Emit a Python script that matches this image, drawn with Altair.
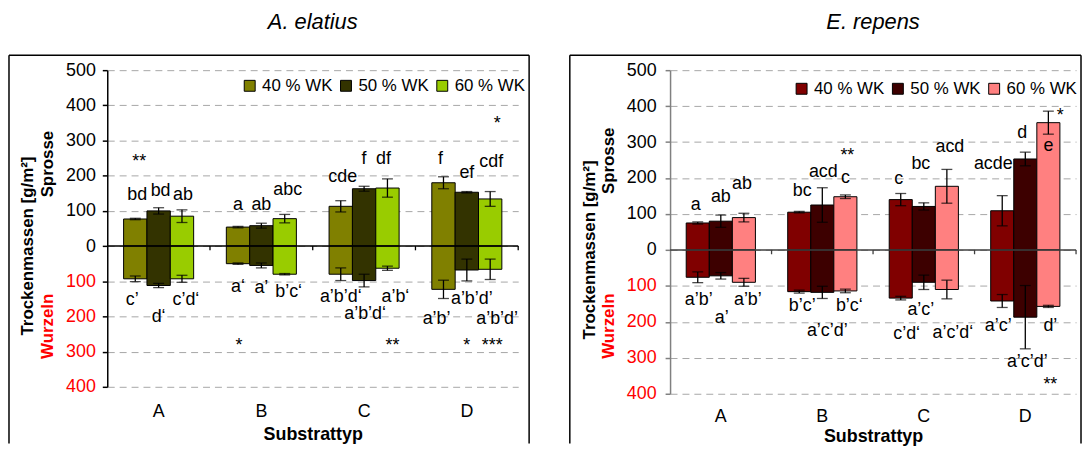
import altair as alt
import pandas as pd

FONT = "Liberation Sans"

categories = ["A", "B", "C", "D"]
series = ["40 % WK", "50 % WK", "60 % WK"]

# ---------------- A. elatius (g/m²) ----------------
ela_shoot_40 = [77, 54, 113, 180]
ela_shoot_50 = [100, 58, 163, 153]
ela_shoot_60 = [85, 78, 165, 134]
ela_shoot_err_40 = [2, 2, 16, 17]
ela_shoot_err_50 = [9, 7, 7, 2]
ela_shoot_err_60 = [18, 12, 26, 21]
ela_root_40 = [93, 50, 80, 123]
ela_root_50 = [112, 55, 98, 68]
ela_root_60 = [93, 80, 63, 66]
ela_root_err_40 = [8, 2, 18, 26]
ela_root_err_50 = [6, 7, 18, 31]
ela_root_err_60 = [10, 2, 6, 29]

ela_label_text = ["**", "bd", "bd", "ab", "a", "ab", "abc", "cde", "f", "df", "f", "ef", "cdf", "*",
                  "c’", "d‘", "c’d‘", "a‘", "a’", "b’c‘", "*", "a’b’d‘", "a’b’d‘", "a’b‘", "**",
                  "a’b’", "a’b’d’", "a’b’d’", "*", "***"]
ela_label_cat = ["A", "A", "A", "A", "B", "B", "B", "C", "C", "C", "D", "D", "D", "D",
                 "A", "A", "A", "B", "B", "B", "B", "C", "C", "C", "C",
                 "D", "D", "D", "D", "D"]
ela_label_series = [0, 0, 1, 2, 0, 1, 2, 0, 1, 2, 0, 1, 2, 2,
                    0, 1, 2, 0, 1, 2, 0, 0, 1, 2, 2,
                    0, 1, 2, 1, 2]
ela_label_y = [238, 146, 156, 146, 118, 118, 159, 195, 248, 248, 248, 208, 238, 348,
               -154, -203, -154, -115, -118, -130, -285, -146, -194, -146, -285,
               -206, -151, -208, -285, -285]
ela_label_dx = [4, 2, 2, 1, 0, 0, 3, 2, 0, -4, -3, 0, 1, 7,
                -3, 0, 4, 0, 0, 4, 1, 0, 1, 8, 5,
                -7, 5, 7, 0, 2]

# ---------------- E. repens (g/m²) ----------------
rep_shoot_40 = [75, 105, 140, 109]
rep_shoot_50 = [80, 125, 121, 253]
rep_shoot_60 = [90, 148, 177, 354]
rep_shoot_err_40 = [3, 2, 17, 42]
rep_shoot_err_50 = [17, 48, 10, 19]
rep_shoot_err_60 = [12, 5, 47, 32]
rep_root_40 = [76, 116, 134, 142]
rep_root_50 = [72, 118, 90, 187]
rep_root_60 = [90, 114, 110, 157]
rep_root_err_40 = [15, 4, 5, 18]
rep_root_err_50 = [9, 17, 20, 88]
rep_root_err_60 = [11, 5, 26, 3]

rep_label_text = ["a", "ab", "ab", "bc", "acd", "c", "**", "c", "bc", "acd", "acde", "d", "e", "*",
                  "a’b’", "a’", "a’b’", "b’c’", "a’c’d’", "b’c‘", "c’d‘", "a’c’", "a’c’d‘",
                  "a’c’", "a’c’d’", "d’", "**"]
rep_label_cat = ["A", "A", "A", "B", "B", "B", "B", "C", "C", "C", "D", "D", "D", "D",
                 "A", "A", "A", "B", "B", "B", "C", "C", "C", "D", "D", "D", "D"]
rep_label_series = [0, 1, 2, 0, 1, 2, 2, 0, 1, 2, 0, 1, 2, 2,
                    0, 1, 2, 0, 1, 2, 0, 1, 2, 0, 1, 2, 2]
rep_label_y = [124, 147, 184, 165, 218, 200, 262, 197, 239, 285, 239, 326, 289, 372,
               -140, -188, -140, -156, -225, -156, -234, -168, -230, -211, -311, -211, -375]
rep_label_dx = [-2, 0, -2, 3, 1, 0, 2, -2, -3, 3, -9, -3, 0, 12,
                1, 1, 4, 3, 5, 4, 6, -3, 6, -4, 2, 2, 2]

ela_colors = ["#808000", "#333300", "#99cc00"]
rep_colors = ["#800000", "#3d0000", "#ff8080"]


def one(d):
    return pd.DataFrame([d])


def panel(title, shoots, shoot_errs, roots, root_errs, lt, lc, ls, ly, ldx, colors,
          w, h, frame_l, frame_r, frame_b, axis_col, zero_col, leg_x, leg_y, lab_pad,
          x_lab_pad, x_title_pad, sprosse_y, wurzeln_y, ytitle_x, sub_x):
    rows = []
    for si, s in enumerate(series):
        for ci, c in enumerate(categories):
            v = shoots[si][ci]
            e = shoot_errs[si][ci]
            rows.append({"cat": c, "series": s, "value": v, "lo": v - e, "hi": v + e})
            v = -roots[si][ci]
            e = root_errs[si][ci]
            rows.append({"cat": c, "series": s, "value": v, "lo": v - e, "hi": v + e})
    df = pd.DataFrame(rows)

    labels = pd.DataFrame({
        "cat": lc,
        "series": [series[i] for i in ls],
        "ly": ly,
        "lt": lt,
        "dx": ldx,
    })

    xaxis = alt.Axis(title="Substrattyp", labelAngle=0, ticks=False, domain=False,
                     labelFont=FONT, labelFontSize=18, labelColor="#000000",
                     labelPadding=x_lab_pad, titleFont=FONT, titleFontSize=18,
                     titleFontWeight="bold", titleColor="#000000", titlePadding=x_title_pad)
    xscale = alt.Scale(paddingInner=0, paddingOuter=0)
    x = alt.X("cat:N", sort=categories, scale=xscale, axis=xaxis)
    xo = alt.XOffset("series:N", sort=series,
                     scale=alt.Scale(paddingInner=0, paddingOuter=0.7))
    yscale = alt.Scale(domain=[-400, 500], nice=False)
    yaxis = alt.Axis(values=list(range(-400, 501, 100)),
                     labelExpr="format(abs(datum.value), 'd')",
                     labelColor={"condition": {"test": "datum.value < 0", "value": "#ff0000"},
                                 "value": "#000000"},
                     labelOverlap=False,
                     labelFont=FONT, labelFontSize=18, labelPadding=lab_pad,
                     tickSize=5, tickColor=axis_col, tickWidth=1.5,
                     domainColor=axis_col, domainWidth=1.5,
                     grid=True, gridColor="#a6a6a6", gridDash=[7, 5], gridWidth=1,
                     title=None)

    def Y(field):
        return alt.Y(field, scale=yscale, axis=yaxis, title=None)

    base = alt.Chart(df)
    bars = base.mark_bar(stroke="#000000", strokeWidth=1, opacity=1).encode(
        x=x, xOffset=xo,
        y=Y("value:Q"),
        color=alt.Color("series:N", sort=series,
                        scale=alt.Scale(domain=series, range=colors),
                        legend=alt.Legend(title=None, orient="none", legendX=leg_x, legendY=leg_y,
                                          direction="horizontal", columns=3,
                                          symbolType="square", symbolSize=121,
                                          symbolStrokeColor="#000000", symbolStrokeWidth=1,
                                          symbolOpacity=1,
                                          labelFont=FONT, labelFontSize=17, labelColor="#000000",
                                          columnPadding=5, labelOffset=4, padding=0)),
    )
    err = base.mark_rule(color="#000000", strokeWidth=1.3).encode(
        x=x, xOffset=xo, y=Y("lo:Q"), y2="hi:Q")
    cap_lo = base.mark_tick(color="#000000", orient="horizontal", size=11, thickness=1.3).encode(
        x=x, xOffset=xo, y=Y("lo:Q"))
    cap_hi = base.mark_tick(color="#000000", orient="horizontal", size=11, thickness=1.3).encode(
        x=x, xOffset=xo, y=Y("hi:Q"))

    zero = alt.Chart(one({"z": 0})).mark_rule(color=zero_col, strokeWidth=1.5).encode(
        y=Y("z:Q"), x=alt.value(0), x2=alt.value(w))
    btick_df = pd.DataFrame({"cat": categories, "z0": [0] * 4, "z1": [-12] * 4})
    bticks = alt.Chart(btick_df).mark_rule(color=zero_col, strokeWidth=1.3).encode(
        x=alt.X("cat:N", sort=categories, scale=xscale, axis=xaxis, bandPosition=1),
        y=Y("z0:Q"), y2="z1:Q")

    text_layers = []
    for dxv in sorted(set(ldx)):
        text_layers.append(
            alt.Chart(labels).transform_filter(alt.datum.dx == dxv).mark_text(
                font=FONT, fontSize=18, color="#000000", baseline="middle",
                align="center", dx=dxv).encode(
                x=x, xOffset=xo, y=Y("ly:Q"), text="lt:N"))

    ytitles = pd.DataFrame({
        "t": ["Trockenmassen [g/m²]", "Sprosse", "Wurzeln"],
        "yy": [0, sprosse_y, wurzeln_y],
    })
    ytitle = alt.Chart(ytitles.iloc[[0]]).mark_text(
        font=FONT, fontSize=17, fontWeight="bold", color="#000000", angle=270,
        baseline="middle", align="center").encode(
        x=alt.value(ytitle_x), y=Y("yy:Q"), text="t:N")
    sprosse = alt.Chart(ytitles.iloc[[1]]).mark_text(
        font=FONT, fontSize=17, fontWeight="bold", color="#000000", angle=270,
        baseline="middle", align="center").encode(
        x=alt.value(sub_x), y=Y("yy:Q"), text="t:N")
    wurzeln = alt.Chart(ytitles.iloc[[2]]).mark_text(
        font=FONT, fontSize=17, fontWeight="bold", color="#ff0000", angle=270,
        baseline="middle", align="center").encode(
        x=alt.value(sub_x), y=Y("yy:Q"), text="t:N")

    ttl = alt.Chart(one({"t": title})).mark_text(
        font=FONT, fontSize=22, fontStyle="italic", color="#000000",
        baseline="middle", align="center").encode(
        x=alt.value(w / 2), y=alt.value(-48), text="t:N")

    frame_src = one({"f": 1})
    f_left = alt.Chart(frame_src).mark_rule(color="#000000", strokeWidth=1.5).encode(
        x=alt.value(frame_l), y=alt.value(-15), y2=alt.value(frame_b))
    f_top = alt.Chart(frame_src).mark_rule(color="#000000", strokeWidth=1.5).encode(
        x=alt.value(frame_l), x2=alt.value(frame_r), y=alt.value(-15))
    f_right = alt.Chart(frame_src).mark_rule(color="#000000", strokeWidth=1.5).encode(
        x=alt.value(frame_r), y=alt.value(-15), y2=alt.value(frame_b))

    return alt.layer(bars, err, cap_lo, cap_hi, zero, bticks, *text_layers,
                     ytitle, sprosse, wurzeln, ttl, f_left, f_top, f_right).properties(
        width=w, height=h)


left = panel("A. elatius",
             [ela_shoot_40, ela_shoot_50, ela_shoot_60],
             [ela_shoot_err_40, ela_shoot_err_50, ela_shoot_err_60],
             [ela_root_40, ela_root_50, ela_root_60],
             [ela_root_err_40, ela_root_err_50, ela_root_err_60],
             ela_label_text, ela_label_cat, ela_label_series, ela_label_y, ela_label_dx,
             ela_colors, w=414, h=319, frame_l=-99, frame_r=425, frame_b=376,
             axis_col="#000000", zero_col="#000000", leg_x=135, leg_y=7, lab_pad=7,
             x_lab_pad=16, x_title_pad=5,
             sprosse_y=233, wurzeln_y=-228, ytitle_x=-80, sub_x=-60)

right = panel("E. repens",
              [rep_shoot_40, rep_shoot_50, rep_shoot_60],
              [rep_shoot_err_40, rep_shoot_err_50, rep_shoot_err_60],
              [rep_root_40, rep_root_50, rep_root_60],
              [rep_root_err_40, rep_root_err_50, rep_root_err_60],
              rep_label_text, rep_label_cat, rep_label_series, rep_label_y, rep_label_dx,
              rep_colors, w=409, h=326, frame_l=-101, frame_r=414, frame_b=376,
              axis_col="#808080", zero_col="#404040", leg_x=124, leg_y=10, lab_pad=9,
              x_lab_pad=14, x_title_pad=2,
              sprosse_y=248, wurzeln_y=-212, ytitle_x=-81, sub_x=-61)

chart = alt.hconcat(left, right, spacing=39).resolve_scale(
    color="independent", x="independent", y="independent", xOffset="independent"
).properties(padding={"top": 2, "left": 0, "right": 0, "bottom": 0}).configure_view(stroke=None)

chart.save("out.html", embed_options={"renderer": "svg", "actions": False})
